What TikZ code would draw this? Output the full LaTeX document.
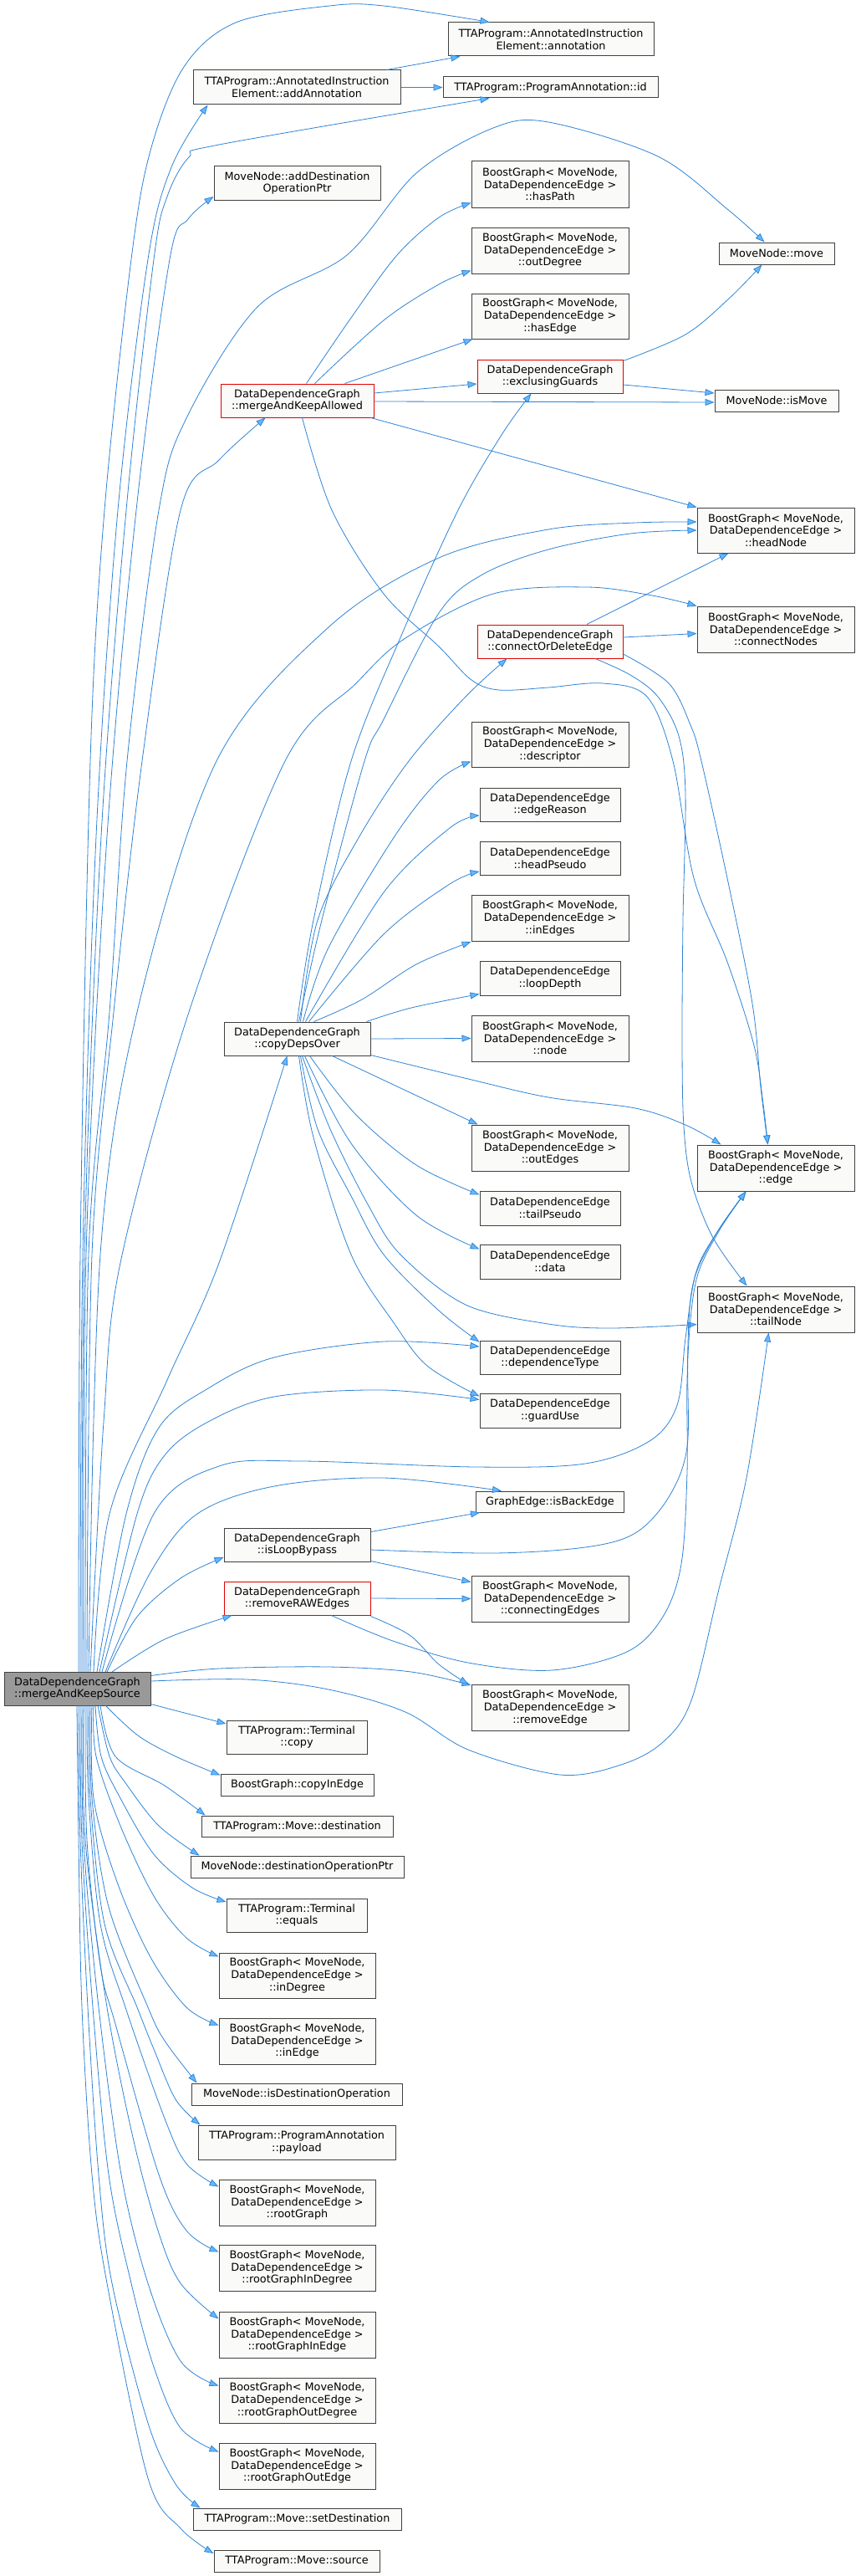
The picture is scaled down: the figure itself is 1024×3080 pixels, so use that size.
\documentclass[tikz,border=0pt]{standalone}
\usepackage{fontspec}
\newfontfamily\dfont{DejaVu Sans}
\usetikzlibrary{arrows.meta,calc}
\definecolor{edgecol}{HTML}{2F84D6}
\definecolor{arrowcol}{HTML}{63B8FF}
\definecolor{boxdraw}{HTML}{404040}
\definecolor{boxfill}{HTML}{FAFBF8}
\definecolor{redfill}{HTML}{FBF2F2}
\definecolor{redline}{HTML}{E00000}
\definecolor{rootfill}{HTML}{999999}
\newcommand\callpath[1]{\draw[call] plot[smooth,tension=0.55] coordinates {#1};}
\tikzset{
  box/.style={draw=boxdraw, fill=boxfill, line width=1pt, inner sep=0pt, align=center,
              font=\dfont\fontsize{12.8}{14.7}\selectfont},
  redbox/.style={box, draw=redline},
  rootbox/.style={box, fill=rootfill},
  call/.style={draw=edgecol, line width=0.8pt, -{Triangle[length=11pt,width=8pt,fill=arrowcol]}}
}
\begin{document}
\begin{tikzpicture}[x=1pt,y=-1pt]
\useasboundingbox[fill=white] (0,0) rectangle (1024,3080);
% ---------------- nodes ----------------
\node[box, minimum width=246pt, minimum height=40pt] (ann) at (659,47) {TTAProgram::AnnotatedInstruction\\Element::annotation};
\node[box, minimum width=248pt, minimum height=41pt] (addAnn) at (355,104.5) {TTAProgram::AnnotatedInstruction\\Element::addAnnotation};
\node[box, minimum width=257pt, minimum height=25pt] (id) at (658.5,104.5) {TTAProgram::ProgramAnnotation::id};
\node[box, minimum width=199pt, minimum height=40pt] (addDest) at (355.5,219) {MoveNode::addDestination\\OperationPtr};
\node[box, minimum width=188pt, minimum height=55pt] (hasPath) at (658,220.5) {BoostGraph< MoveNode,\\DataDependenceEdge >\\::hasPath};
\node[box, minimum width=188pt, minimum height=55pt] (outDegree) at (658,299.5) {BoostGraph< MoveNode,\\DataDependenceEdge >\\::outDegree};
\node[box, minimum width=138pt, minimum height=26pt] (move) at (929,303) {MoveNode::move};
\node[box, minimum width=188pt, minimum height=54pt] (hasEdge) at (658,378) {BoostGraph< MoveNode,\\DataDependenceEdge >\\::hasEdge};
\node[redbox, minimum width=174pt, minimum height=40pt] (exclG) at (658,450) {DataDependenceGraph\\::exclusingGuards};
\node[redbox, minimum width=183pt, minimum height=40pt] (mKA) at (355.5,479) {DataDependenceGraph\\::mergeAndKeepAllowed};
\node[box, minimum width=148pt, minimum height=26pt] (isMove) at (929,479) {MoveNode::isMove};
\node[box, minimum width=188pt, minimum height=54pt] (headNode) at (928,634) {BoostGraph< MoveNode,\\DataDependenceEdge >\\::headNode};
\node[box, minimum width=188pt, minimum height=55pt] (connectNodes) at (928,752.5) {BoostGraph< MoveNode,\\DataDependenceEdge >\\::connectNodes};
\node[redbox, minimum width=174pt, minimum height=40pt] (codE) at (658,767) {DataDependenceGraph\\::connectOrDeleteEdge};
\node[box, minimum width=188pt, minimum height=54pt] (descriptor) at (658,890) {BoostGraph< MoveNode,\\DataDependenceEdge >\\::descriptor};
\node[box, minimum width=168pt, minimum height=40pt] (edgeReason) at (658,962) {DataDependenceEdge\\::edgeReason};
\node[box, minimum width=168pt, minimum height=40pt] (headPseudo) at (658,1026) {DataDependenceEdge\\::headPseudo};
\node[box, minimum width=188pt, minimum height=55pt] (inEdges) at (658,1098) {BoostGraph< MoveNode,\\DataDependenceEdge >\\::inEdges};
\node[box, minimum width=168pt, minimum height=41pt] (loopDepth) at (658,1169.5) {DataDependenceEdge\\::loopDepth};
\node[box, minimum width=175pt, minimum height=40pt] (copyDepsOver) at (355.5,1242) {DataDependenceGraph\\::copyDepsOver};
\node[box, minimum width=188pt, minimum height=55pt] (node) at (658,1241.5) {BoostGraph< MoveNode,\\DataDependenceEdge >\\::node};
\node[box, minimum width=188pt, minimum height=55pt] (outEdges) at (658,1372.5) {BoostGraph< MoveNode,\\DataDependenceEdge >\\::outEdges};
\node[box, minimum width=188pt, minimum height=55pt] (edge) at (928,1396.5) {BoostGraph< MoveNode,\\DataDependenceEdge >\\::edge};
\node[box, minimum width=168pt, minimum height=41pt] (tailPseudo) at (658,1444.5) {DataDependenceEdge\\::tailPseudo};
\node[box, minimum width=168pt, minimum height=41pt] (data) at (658,1508.5) {DataDependenceEdge\\::data};
\node[box, minimum width=188pt, minimum height=55pt] (tailNode) at (928,1565.5) {BoostGraph< MoveNode,\\DataDependenceEdge >\\::tailNode};
\node[box, minimum width=168pt, minimum height=40pt] (depType) at (658,1623) {DataDependenceEdge\\::dependenceType};
\node[box, minimum width=168pt, minimum height=41pt] (guardUse) at (658,1686.5) {DataDependenceEdge\\::guardUse};
\node[box, minimum width=177pt, minimum height=25pt] (isBackEdge) at (658,1795.5) {GraphEdge::isBackEdge};
\node[box, minimum width=175pt, minimum height=40pt] (isLoopBypass) at (355.5,1847) {DataDependenceGraph\\::isLoopBypass};
\node[redbox, minimum width=175pt, minimum height=40pt] (removeRAW) at (355.5,1911) {DataDependenceGraph\\::removeRAWEdges};
\node[box, minimum width=188pt, minimum height=55pt] (connectingEdges) at (658,1911.5) {BoostGraph< MoveNode,\\DataDependenceEdge >\\::connectingEdges};
\node[rootbox, minimum width=175pt, minimum height=40pt] (mKS) at (92.5,2019) {DataDependenceGraph\\::mergeAndKeepSource};
\node[box, minimum width=188pt, minimum height=55pt] (removeEdge) at (658,2042) {BoostGraph< MoveNode,\\DataDependenceEdge >\\::removeEdge};
\node[box, minimum width=168pt, minimum height=40pt] (TermCopy) at (355,2077) {TTAProgram::Terminal\\::copy};
\node[box, minimum width=183pt, minimum height=26pt] (copyInEdge) at (355.5,2134) {BoostGraph::copyInEdge};
\node[box, minimum width=229pt, minimum height=25pt] (MoveDest) at (355.5,2183.5) {TTAProgram::Move::destination};
\node[box, minimum width=255pt, minimum height=26pt] (destOpPtr) at (355.5,2232) {MoveNode::destinationOperationPtr};
\node[box, minimum width=168pt, minimum height=40pt] (TermEquals) at (355,2290) {TTAProgram::Terminal\\::equals};
\node[box, minimum width=187pt, minimum height=54pt] (inDegree) at (355.5,2362) {BoostGraph< MoveNode,\\DataDependenceEdge >\\::inDegree};
\node[box, minimum width=187pt, minimum height=55pt] (inEdge) at (355.5,2440.5) {BoostGraph< MoveNode,\\DataDependenceEdge >\\::inEdge};
\node[box, minimum width=252pt, minimum height=26pt] (isDestOp) at (355,2504) {MoveNode::isDestinationOperation};
\node[box, minimum width=236pt, minimum height=41pt] (payload) at (355,2561.5) {TTAProgram::ProgramAnnotation\\::payload};
\node[box, minimum width=187pt, minimum height=55pt] (rootGraph) at (355.5,2633.5) {BoostGraph< MoveNode,\\DataDependenceEdge >\\::rootGraph};
\node[box, minimum width=187pt, minimum height=55pt] (rgInDeg) at (355.5,2711.5) {BoostGraph< MoveNode,\\DataDependenceEdge >\\::rootGraphInDegree};
\node[box, minimum width=187pt, minimum height=55pt] (rgInEdge) at (355.5,2791.5) {BoostGraph< MoveNode,\\DataDependenceEdge >\\::rootGraphInEdge};
\node[box, minimum width=187pt, minimum height=54pt] (rgOutDeg) at (355.5,2870) {BoostGraph< MoveNode,\\DataDependenceEdge >\\::rootGraphOutDegree};
\node[box, minimum width=187pt, minimum height=55pt] (rgOutEdge) at (355.5,2948.5) {BoostGraph< MoveNode,\\DataDependenceEdge >\\::rootGraphOutEdge};
\node[box, minimum width=249pt, minimum height=26pt] (setDest) at (355.5,3012) {TTAProgram::Move::setDestination};
\node[box, minimum width=198pt, minimum height=26pt] (source) at (355,3062) {TTAProgram::Move::source};
% ---------------- edges ----------------
% addAnnotation
\draw[call] ($(addAnn.north east)+(-17,0)$) -- ($(ann.south west)+(15,0)$);
\draw[call] (addAnn.east) -- (id.west);
% mergeAndKeepSource upward bundle
\callpath{(94,1999) (96,1500) (108,910) (125,610) (157,310) (180,180) (220,80) (282,27) (394,7) (459,7) ($(ann.north west)+(50,0)$)}
\callpath{(96,1999) (99,1500) (115,1000) (141,610) (177,310) (205,200) ($(addAnn.south west)+(18,0)$)}
\callpath{(98,1999) (101,1500) (121,1000) (151,610) (184,310) (200,235) (226,188) (262,173) ($(id.south west)+(56,0)$)}
\callpath{(100,1999) (103,1500) (128,1000) (163,610) (203,310) (225,262) ($(addDest.west)+(0,16)$)}
\callpath{(102,1999) (106,1500) (131,1210) (152,910) (190,610) (223,500) (308,367) (415,305) (498,207) (590,153) (656,146) (787,187) (870,250) ($(move.north west)+(55,0)$)}
\callpath{(104,1999) (110,1500) (136,1210) (170,910) (216,610) (262,550) ($(mKA.south west)+(54,0)$)}
\callpath{(106,1999) (120,1500) (164,1210) (259,910) (393,750) (525,667) (656,633) (760,625) ($(headNode.west)+(0,-10)$)}
\callpath{(108,1999) (124,1700) (144,1510) (226,1210) (341,910) (426,817) (485,763) (590,710) (702,702) (780,712) (connectNodes.north west)}
\callpath{(112,1999) (131,1810) (200,1650) (262,1510) ($(copyDepsOver.south west)+(76,0)$)}
\callpath{(116,1999) (151,1810) (190,1707) (249,1660) (328,1623) (459,1604) ($(depType.west)+(0,-13)$)}
\callpath{(119,1999) (164,1810) (197,1740) (249,1700) (328,1670) (459,1662) ($(guardUse.west)+(0,-13)$)}
\callpath{(122,1999) (184,1810) (262,1753) (361,1747) (570,1754) (700,1750) (777,1723) (810,1680) (820,1600) (833,1520) (860,1470) ($(edge.south west)+(59,0)$)}
\callpath{(126,1999) (180,1880) (236,1810) (328,1777) (459,1767) ($(isBackEdge.north west)+(31,0)$)}
\callpath{(128,1999) (164,1933) (216,1887) ($(isLoopBypass.west)+(0,15)$)}
\callpath{(134,1999) (197,1960) ($(removeRAW.south west)+(10,0)$)}
\callpath{($(mKS.north east)+(0,5)$) (262,1995) (393,1993) (492,1999) ($(removeEdge.north west)+(0,1)$)}
\callpath{($(mKS.east)+(0,-9)$) (295,2008) (393,2020) (485,2047) (560,2092) (670,2122) (743,2110) (793,2083) (827,2033) (860,1900) (893,1767) ($(tailNode.south west)+(86,0)$)}
\draw[call] ($(mKS.south east)+(0,-2)$) -- ($(TermCopy.west)+(0,-16)$);
% mergeAndKeepSource downward bundle
\callpath{(126,2039) (165,2075) (210,2100) ($(copyInEdge.north west)+(0,2)$)}
\callpath{(120,2039) (138,2100) (197,2135) ($(MoveDest.north west)+(5,0)$)}
\callpath{(117,2039) (131,2100) (151,2133) (190,2183) ($(destOpPtr.north west)+(11,0)$)}
\callpath{(114,2039) (121,2100) (144,2150) (184,2217) (230,2257) ($(TermEquals.west)+(0,-16)$)}
\callpath{(112,2039) (115,2100) (144,2183) (184,2267) (223,2317) ($(inDegree.north west)+(0,5)$)}
\callpath{(110,2039) (112,2150) (140,2250) (180,2340) (223,2400) ($(inEdge.north west)+(0,9)$)}
\callpath{(108,2039) (110,2150) (130,2280) (177,2400) (197,2440) ($(isDestOp.north west)+(7,0)$)}
\callpath{(106,2039) (108,2150) (125,2300) (164,2400) (184,2450) (210,2510) ($(payload.north west)+(3,0)$)}
\callpath{(104,2039) (106,2150) (120,2300) (150,2400) (197,2533) (223,2587) ($(rootGraph.north west)+(0,9)$)}
\callpath{(102,2039) (104,2200) (120,2350) (138,2420) (190,2600) (223,2667) ($(rgInDeg.north west)+(0,9)$)}
\callpath{(100,2039) (102,2200) (128,2400) (160,2560) (190,2670) (216,2730) ($(rgInEdge.north west)+(0,9)$)}
\callpath{(98,2039) (100,2200) (118,2400) (145,2600) (177,2730) (216,2823) ($(rgOutDeg.north west)+(0,10)$)}
\callpath{(96,2039) (98,2200) (111,2400) (130,2600) (157,2730) (184,2830) (216,2903) ($(rgOutEdge.north west)+(0,11)$)}
\callpath{(94,2039) (96,2200) (105,2400) (118,2600) (134,2730) (177,2897) (210,2970) ($(setDest.north west)+(9,0)$)}
\callpath{(92,2039) (94,2200) (98,2400) (110,2600) (128,2730) (177,2963) (216,3023) ($(source.west)+(0,-9)$)}
% mergeAndKeepAllowed
\callpath{($(mKA.north)+(11,0)$) (420,380) (475,305) (525,260) ($(hasPath.south west)+(0,-6)$)}
\callpath{($(mKA.north)+(21,0)$) (459,383) (525,340) ($(outDegree.south west)+(0,-4)$)}
\draw[call] ($(mKA.north)+(57,0)$) -- ($(hasEdge.south west)+(2,0)$);
\draw[call] ($(mKA.east)+(0,-9)$) -- ($(exclG.west)+(0,9)$);
\draw[call] ($(mKA.east)+(0,1)$) -- ($(isMove.west)+(0,2)$);
\draw[call] ($(mKA.south east)+(-4,0)$) -- (headNode.north west);
\callpath{($(mKA.south)+(6,0)$) (397,610) (459,710) (525,773) (564,813) (597,825) (656,822) (721,817) (774,833) (805,910) (830,1050) (870,1150) (902,1250) (913,1320) ($(edge.north west)+(85,0)$)}
% exclusingGuards
\callpath{($(exclG.north east)+(0,2)$) (820,400) (872,357) ($(move.south west)+(52,0)$)}
\draw[call] ($(exclG.east)+(0,10)$) -- ($(isMove.west)+(0,-9)$);
% connectOrDeleteEdge
\draw[call] ($(codE.north)+(44,0)$) -- ($(headNode.south west)+(38,0)$);
\draw[call] ($(codE.east)+(0,-5)$) -- ($(connectNodes.west)+(0,5)$);
\callpath{($(codE.east)+(0,15)$) (800,817) (826,867) (839,910) (870,1050) (900,1200) (910,1300) ($(edge.north west)+(85,0)$)}
\callpath{($(codE.south)+(54,0)$) (754,807) (787,833) (812,880) (820,950) (817,1100) (816,1250) (818,1347) (827,1413) (853,1480) ($(tailNode.north west)+(60,0)$)}
% copyDepsOver
\callpath{($(copyDepsOver.north)+(4,0)$) (380,1100) (430,1000) (489,910) (557,833) ($(codE.south west)+(36,0)$)}
\callpath{(copyDepsOver.north) (375,1100) (420,910) (480,760) (548,610) (600,520) ($(exclG.south west)+(65,0)$)}
\callpath{($(copyDepsOver.north)+(2,0)$) (385,1100) (436,910) (459,860) (525,733) (577,687) (656,657) (754,638) (headNode.west)}
\callpath{($(copyDepsOver.north)+(7,0)$) (393,1133) (472,1000) (525,933) ($(descriptor.south west)+(0,-7)$)}
\callpath{($(copyDepsOver.north)+(10,0)$) (459,1067) (538,990) ($(edgeReason.west)+(0,13)$)}
\callpath{($(copyDepsOver.north)+(14,0)$) (459,1117) (538,1057) ($(headPseudo.west)+(0,16)$)}
\callpath{($(copyDepsOver.north)+(20,0)$) (433,1195) (498,1153) (inEdges.south west)}
\callpath{($(copyDepsOver.north east)+(-5,0)$) (492,1205) ($(loopDepth.south west)+(0,-2)$)}
\draw[call] (copyDepsOver.east) -- (node.west);
\callpath{($(copyDepsOver.south east)+(0,-1)$) (560,1290) (656,1312) (760,1325) (820,1345) ($(edge.north west)+(29,0)$)}
\callpath{($(copyDepsOver.south)+(42,0)$) (492,1307) ($(outEdges.north west)+(8,0)$)}
\callpath{($(copyDepsOver.south)+(15,0)$) (426,1333) (498,1393) ($(tailPseudo.west)+(0,-16)$)}
\callpath{($(copyDepsOver.south)+(9,0)$) (420,1367) (498,1453) ($(data.west)+(0,-15)$)}
\callpath{($(copyDepsOver.south)+(6,0)$) (395,1350) (440,1440) (479,1500) (557,1560) (656,1583) (730,1588) ($(tailNode.west)+(0,18)$)}
\callpath{($(copyDepsOver.south)+(4,0)$) (380,1350) (420,1430) (459,1500) (525,1567) ($(depType.north west)+(0,2)$)}
\callpath{($(copyDepsOver.south)+(2,0)$) (375,1360) (420,1500) (472,1583) (511,1633) ($(guardUse.west)+(0,-17)$)}
% isLoopBypass
\draw[call] ($(isLoopBypass.north east)+(0,5)$) -- ($(isBackEdge.south west)+(5,0)$);
\callpath{($(isLoopBypass.east)+(0,6)$) (590,1857) (700,1850) (760,1833) (800,1790) (822,1730) (823,1620) (833,1530) (860,1472) ($(edge.south west)+(59,0)$)}
\draw[call] ($(isLoopBypass.south east)+(0,-1)$) -- ($(connectingEdges.north west)+(0,8)$);
% removeRAWEdges
\draw[call] (removeRAW.east) -- (connectingEdges.west);
\callpath{($(removeRAW.south east)+(0,1)$) (490,1955) (525,1990) ($(removeEdge.north west)+(-3,0)$)}
\callpath{($(removeRAW.south)+(41,0)$) (470,1962) (560,1988) (660,1997) (750,1975) (793,1933) (815,1870) (822,1760) (822,1650) (828,1540) (855,1478) ($(edge.south west)+(59,0)$)}
\end{tikzpicture}
\end{document}
